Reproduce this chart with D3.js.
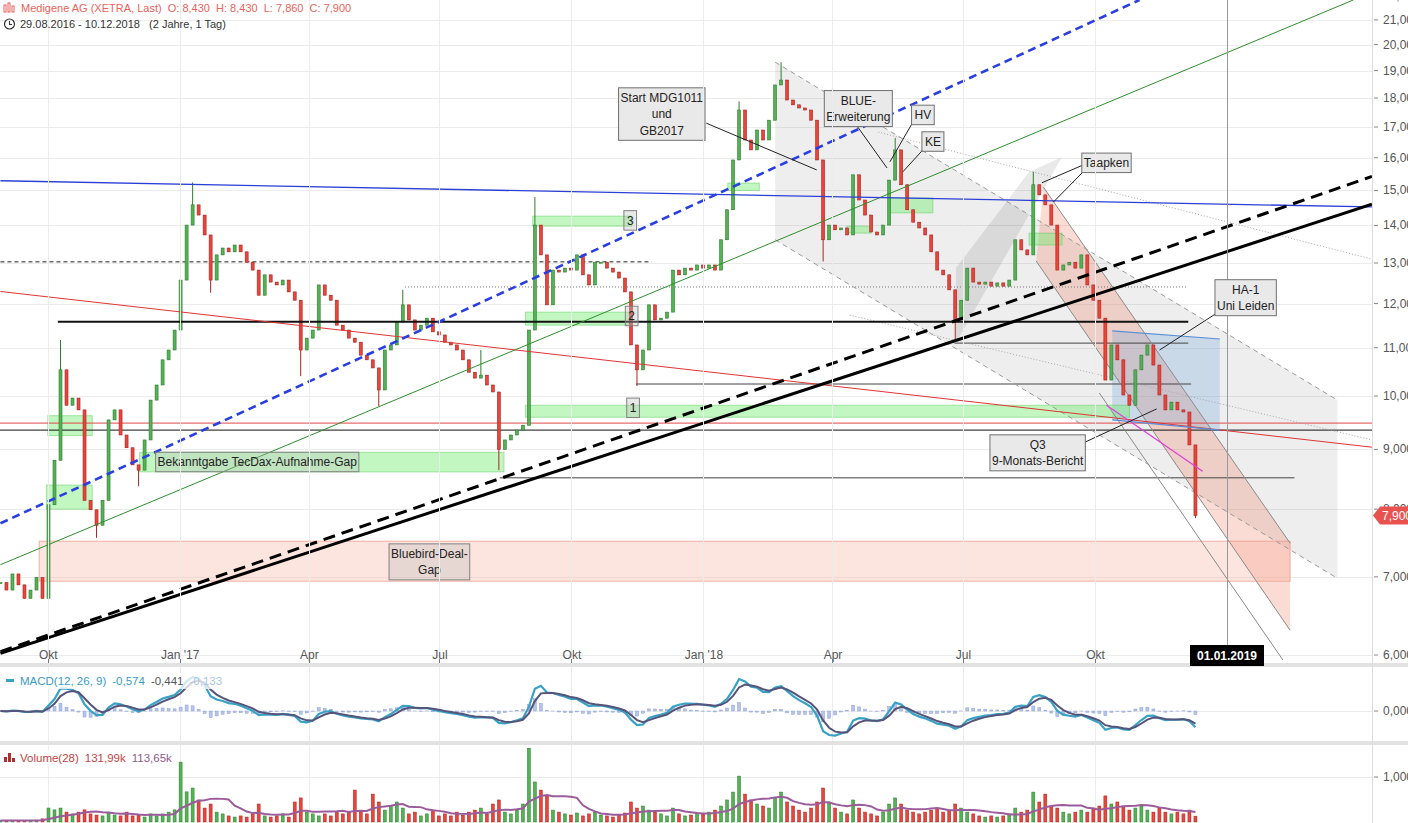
<!DOCTYPE html>
<html><head><meta charset="utf-8">
<script src="https://d3js.org/d3.v7.min.js"></script>
<style>
html,body{margin:0;padding:0;background:#fff;overflow:hidden}
svg{display:block}
text{font-family:"Liberation Sans",Arial,Helvetica,sans-serif;font-size:12px}
</style></head><body>
<svg id="chart" width="1408" height="823"></svg>
<script>
// ---------------- DATA ----------------
const candleStart = "2016-08-29", candleEnd = "2018-12-10";
const closes = [
 6.92,6.82,7.04,6.89,6.71,6.82,6.99,6.71,8.07,8.81,
 10.53,9.82,9.96,9.73,8.14,7.99,7.75,8.14,9.54,9.73,
 9.26,9.03,8.73,8.64,9.17,9.92,10.22,10.74,10.95,11.39,
 12.57,14.01,14.58,14.29,13.74,12.57,13.21,13.39,13.29,13.47,
 13.29,13.02,12.82,12.20,12.70,12.52,12.45,12.57,12.28,12.08,
 10.95,11.21,11.39,12.45,12.20,12.08,11.50,11.39,11.21,11.12,
 10.84,10.74,10.57,10.12,10.95,11.06,11.57,11.97,11.62,11.39,
 11.50,11.66,11.35,11.28,11.12,11.06,10.95,10.74,10.48,10.36,
 10.42,10.22,10.08,9.00,9.17,9.26,9.35,9.44,11.39,14.01,
 13.21,11.97,12.82,12.77,12.87,12.82,13.21,12.70,12.45,13.02,
 13.02,12.87,12.77,12.62,12.28,11.06,10.53,10.95,11.97,11.62,
 11.66,11.80,12.82,12.70,12.87,12.82,12.95,12.87,12.95,12.82,
 13.61,14.44,15.93,17.58,16.57,16.25,16.90,16.57,17.23,18.47,
 18.65,17.93,17.76,17.65,17.58,17.23,15.93,13.61,14.01,13.88,
 13.93,13.74,15.47,14.72,14.29,13.82,13.74,14.01,15.31,16.25,
 15.17,14.44,14.09,13.93,13.74,13.29,12.82,12.70,12.33,11.62,
 12.08,12.87,12.52,12.47,12.52,12.42,12.50,12.42,12.57,13.61,
 13.34,13.21,15.17,14.87,14.58,14.01,12.82,12.95,13.02,12.87,
 13.21,12.45,12.08,11.66,10.32,11.06,10.74,10.02,9.82,10.53,
 10.84,11.06,10.63,10.02,9.73,9.88,9.73,9.69,9.08,7.90
];
const wickHighs = [[10,11.17],[32,15.24],[67,12.33],[80,10.95],[89,14.81],[123,17.88],[130,19.32],[149,16.64],[172,15.56]];
const wickLows = [[16,7.56],[23,8.37],[35,12.26],[50,10.40],[63,9.80],[83,8.64],[106,10.20],[137,13.04],[159,11.17],[199,7.86]];
const volumes = [
 35,30,40,30,35,30,40,70,310,270,
 310,220,180,220,270,180,155,135,220,155,
 135,220,135,155,110,180,135,180,220,270,
 1330,670,755,490,310,400,220,180,135,110,
 135,110,180,400,135,110,135,180,110,445,
 535,220,180,135,180,135,220,180,220,710,
 265,180,620,445,265,355,445,310,180,220,
 135,180,265,135,180,135,220,155,220,265,
 310,180,400,490,220,180,265,400,1640,890,
 710,580,265,220,180,155,200,135,180,220,
 155,135,110,155,200,445,310,355,265,220,
 180,135,310,180,135,155,200,180,220,265,
 355,490,665,1020,620,490,400,355,310,535,
 665,445,355,265,220,310,445,755,445,310,
 220,180,490,310,220,180,135,220,400,535,
 400,265,220,180,220,265,310,220,265,400,
 310,220,180,135,110,135,110,135,180,310,
 220,265,665,445,620,355,310,220,180,220,
 265,220,310,355,580,400,445,355,265,310,
 355,265,220,310,220,180,220,180,265,130
];
const priceTicks = [6,7,8,9,10,11,12,13,14,15,16,17,18,19,20,21,22];
const quarterDates = ["2016-10-01","2017-01-01","2017-04-01","2017-07-01","2017-10-01","2018-01-01","2018-04-01","2018-07-01","2018-10-01"];
const quarterLabels = ["Okt","Jan '17","Apr","Jul","Okt","Jan '18","Apr","Jul","Okt"];
const crossDate = "2019-01-01", crossLabel = "01.01.2019";
const lastPrice = 7.90, lastPriceLabel = "7,900";

const gapsGreen = [
 ["2016-10-01","2016-11-01",9.62,9.25],
 ["2016-09-30","2016-11-01",8.39,8.00],
 ["2016-12-04","2017-08-15",8.95,8.61],
 ["2017-08-30","2018-10-25",9.82,9.59],
 ["2017-08-30","2017-11-12",11.80,11.50],
 ["2017-09-04","2017-11-12",14.26,13.98],
 ["2018-01-18","2018-02-09",15.22,15.00],
 ["2018-05-10","2018-06-10",14.78,14.35],
 ["2018-04-11","2018-04-28",13.98,13.79],
 ["2018-08-16","2018-09-08",13.79,13.47]
];
const gapRed = [["2016-09-25","2019-02-14",7.51,6.94]];
const zoneGray = [["2018-02-20",19.32],["2019-03-19",9.92],["2019-03-19",6.98],["2018-02-20",13.61]];
const zoneRise = [["2018-06-26",11.10],["2018-09-08",16.02],["2018-08-16",15.56],["2018-06-26",12.87]];
const zoneSalmon = [["2018-08-26",15.10],["2019-02-14",7.48],["2019-02-14",6.30],["2018-08-21",13.05]];
const zoneBlue = [["2018-10-13",11.37],["2018-12-27",11.19],["2018-12-27",9.35],["2018-10-13",9.54]];

const levelBlackDash = [["2016-08-29","2017-11-26",13.03]];
const levelDotted = [["2017-06-07","2018-12-04",12.40]];
const levelBlack = [["2016-10-08","2018-12-05",11.58]];
const levelGray = [["2018-06-25","2018-12-05",11.10],["2017-11-15","2018-12-07",10.24],["2017-08-12","2019-02-17",8.51]];
const levelFullRed = [["2016-08-01","2019-05-01",9.48]];
const levelFullBlack = [["2016-08-01","2019-05-01",9.35]];

const channelDashed = [["2018-02-20",19.32,"2019-03-19",9.92],["2018-02-20",13.61,"2019-03-19",6.98]];
const channelDotted = [["2018-05-03",16.83,"2019-04-12",13.10],["2018-04-13",11.73,"2019-04-12",9.17]];
const channelGray = [["2018-08-26",15.10,"2019-02-14",7.48],["2018-08-21",13.05,"2019-02-14",6.30],["2018-10-04",10.06,"2019-02-09",5.94]];
const trendBlue = [["2016-08-29",15.29,"2019-04-12",14.52]];
const trendBlueDash = [["2016-08-29",7.78,"2018-11-01",21.84]];
const trendGreen = [["2016-08-29",7.17,"2019-03-30",21.84]];
const trendRed = [["2016-08-29",12.29,"2019-04-12",9.04]];
const trendBlack = [["2016-08-29",6.02,"2019-04-12",14.60]];
const trendBlackDash = [["2016-08-29",6.04,"2019-04-12",15.42]];
const trendMagenta = [["2018-10-09",9.82,"2018-12-15",8.62]];

const notes = [
 [["Start MDG1011","und","GB2017"],"2017-12-03",17.44],
 [["BLUE-","Erweiterung"],"2018-04-19",17.63],
 [["HV"],"2018-06-03",17.41],
 [["KE"],"2018-06-10",16.52],
 [["Taapken"],"2018-10-09",15.84],
 [["HA-1","Uni Leiden"],"2019-01-14",12.14],
 [["Q3","9-Monats-Bericht"],"2018-08-22",8.94]
];
const notePointers = [
 ["2018-01-03",17.13,"2018-03-21",15.62],
 ["2018-04-18",17.04,"2018-05-09",15.68],
 ["2018-05-27",17.16,"2018-05-11",15.87],
 ["2018-06-03",16.25,"2018-05-20",15.56],
 ["2018-09-23",15.78,"2018-08-25",15.23],
 ["2018-09-24",15.62,"2018-09-02",14.66],
 ["2018-12-25",11.78,"2018-11-15",10.95],
 ["2018-09-24",9.13,"2018-11-13",9.75]
];
const gapNotes = [
 [["Bekanntgabe TecDax-Aufnahme-Gap"],"2017-02-24",8.78],
 [["Bluebird-Deal-","Gap"],"2017-06-24",7.21],
 [["3"],"2017-11-11",14.14],
 [["2"],"2017-11-12",11.71],
 [["1"],"2017-11-13",9.77]
];
const headerTitle = "Medigene AG (XETRA, Last)  O: 8,430  H: 8,430  L: 7,860  C: 7,900";
const headerRange = "29.08.2016 - 10.12.2018   (2 Jahre, 1 Tag)";
const macdLegend = ["MACD(12, 26, 9)","-0,574","-0,441","-0,133"];
const volLegend = ["Volume(28)","131,99k","113,65k"];

// ---------------- SETUP ----------------
const svg = d3.select("#chart");
const parse = d3.timeParse("%Y-%m-%d");
const PR = 1372;
const x = d3.scaleTime().domain([new Date(2016,7,29), new Date(2019,0,1)]).range([0.46,1227]);
const y = d3.scaleLog().domain([6,21.84]).range([655,0]);
const yM = d3.scaleLinear().domain([-1,1]).range([736,686]);
const yV = d3.scaleLinear().domain([0,1000]).range([822,777]);
const n = closes.length;
const idx = d3.scaleLinear().domain([0,n-1]).range([parse(candleStart), parse(candleEnd)]);
const cx = i => x(idx(i));
const X = s => x(parse(s));
const BW = 3;

const defs = svg.append("defs");
defs.append("clipPath").attr("id","cp").append("rect").attr("x",0).attr("y",0).attr("width",PR).attr("height",663);
defs.append("clipPath").attr("id","cm").append("rect").attr("x",0).attr("y",667).attr("width",PR).attr("height",74);
defs.append("clipPath").attr("id","cv").append("rect").attr("x",0).attr("y",745).attr("width",PR).attr("height",78);

svg.append("rect").attr("x",0).attr("y",663).attr("width",1408).attr("height",4).attr("fill","#e2e2e2");
svg.append("rect").attr("x",0).attr("y",741).attr("width",1408).attr("height",4).attr("fill","#e2e2e2");
svg.append("line").attr("x1",PR+0.5).attr("x2",PR+0.5).attr("y1",0).attr("y2",823).attr("stroke","#dcdcdc");

// ---------------- PRICE PANE ----------------
const gP = svg.append("g").attr("clip-path","url(#cp)");
gP.selectAll(null).data(priceTicks).join("line").attr("x1",0).attr("x2",PR)
  .attr("y1",d=>Math.round(y(d))+0.5).attr("y2",d=>Math.round(y(d))+0.5).attr("stroke","#ececec");
[[0,663],[667,741],[745,823]].forEach(([a,b])=>{
  svg.selectAll(null).data(quarterDates).join("line").attr("x1",d=>Math.round(X(d))+0.5).attr("x2",d=>Math.round(X(d))+0.5)
    .attr("y1",a).attr("y2",b).attr("stroke","#ececec");
});

const poly = d3.line().x(d=>X(d[0])).y(d=>y(d[1]));
gP.append("path").attr("d",poly(zoneGray)+"Z").attr("fill","rgba(0,0,0,0.065)");
gP.append("path").attr("d",poly(zoneRise)+"Z").attr("fill","rgba(0,0,0,0.085)");
gP.append("path").attr("d",poly(zoneSalmon)+"Z").attr("fill","rgba(240,130,100,0.28)");
gP.append("path").attr("d",poly(zoneBlue)+"Z").attr("fill","rgba(110,165,220,0.28)");

const rectAttrs = sel => sel.attr("x",d=>X(d[0])).attr("width",d=>X(d[1])-X(d[0]))
  .attr("y",d=>y(d[2])).attr("height",d=>y(d[3])-y(d[2]));
gP.selectAll(null).data(gapRed).join("rect").call(rectAttrs).attr("fill","rgba(250,170,150,0.3)").attr("stroke","rgba(235,150,130,0.7)");
gP.selectAll(null).data(gapsGreen).join("rect").call(rectAttrs).attr("fill","rgba(110,235,110,0.42)").attr("stroke","rgba(80,200,80,0.45)");

const lvl = (arr, stroke, w, dash) => gP.selectAll(null).data(arr).join("line")
  .attr("x1",d=>X(d[0])).attr("x2",d=>X(d[1])).attr("y1",d=>y(d[2])).attr("y2",d=>y(d[2]))
  .attr("stroke",stroke).attr("stroke-width",w).attr("stroke-dasharray",dash||null);
const seg = (arr, stroke, w, dash) => gP.selectAll(null).data(arr).join("line")
  .attr("x1",d=>X(d[0])).attr("y1",d=>y(d[1])).attr("x2",d=>X(d[2])).attr("y2",d=>y(d[3]))
  .attr("stroke",stroke).attr("stroke-width",w).attr("stroke-dasharray",dash||null);

lvl(levelFullRed,"#e04848",1);
lvl(levelFullBlack,"#111",1);
lvl(levelBlackDash,"#222",1,"4,3");
lvl(levelDotted,"#777",1,"1,2");
lvl(levelGray,"#444",1);
seg(channelDashed,"#9a9a9a",1,"5,4");
seg(channelDotted,"#a8a8a8",1,"1,2");
seg(channelGray,"#8a8a8a",1);

// candles
const opens = closes.map((c,i)=> i===0 ? c : closes[i-1]);
const hiMap = new Map(wickHighs), loMap = new Map(wickLows);
const ids = d3.range(n);
const up = i => closes[i] >= opens[i];
gP.selectAll(null).data(ids).join("line")
  .attr("x1",i=>cx(i)).attr("x2",i=>cx(i))
  .attr("y1",i=>y(Math.max(opens[i],closes[i],hiMap.get(i)||0)))
  .attr("y2",i=>y(Math.min(opens[i],closes[i],loMap.get(i)||99)))
  .attr("stroke",i=>up(i)?"#2f7d2f":"#a82520").attr("stroke-width",1);
gP.selectAll(null).data(ids).join("rect")
  .attr("x",i=>cx(i)-BW/2).attr("width",BW)
  .attr("y",i=>y(Math.max(opens[i],closes[i])))
  .attr("height",i=>Math.max(1,Math.abs(y(opens[i])-y(closes[i]))))
  .attr("fill",i=>up(i)?"#55b155":"#e8453c").attr("stroke",i=>up(i)?"#2f7d2f":"#a82520").attr("stroke-width",0.6);

lvl(levelBlack,"#111",2);
seg(trendRed,"#e03434",1);
seg(trendGreen,"#2d8f2d",1);
seg(trendBlue,"#2b3fd6",1.3);
seg(trendBlueDash,"#2a3fe0",2.6,"8,5");
seg(trendBlack,"#000",3);
seg(trendBlackDash,"#000",3,"12,7");
seg(trendMagenta,"#e040d8",1.3);
seg([[zoneBlue[0][0],zoneBlue[0][1],zoneBlue[1][0],zoneBlue[1][1]],[zoneBlue[3][0],zoneBlue[3][1],zoneBlue[2][0],zoneBlue[2][1]]],"#5b8fd5",1.2);

gP.append("line").attr("x1",Math.round(X(crossDate))+0.5).attr("x2",Math.round(X(crossDate))+0.5)
  .attr("y1",0).attr("y2",646).attr("stroke","#999").attr("stroke-width",1);

seg(notePointers,"#222",1);
function drawNotes(arr, fill, stroke){
  arr.forEach(([lines,d,p])=>{
    const g = gP.append("g").attr("transform",`translate(${X(d)},${y(p)})`);
    const lh = 16.5, th = lines.length*lh;
    const r = g.append("rect");
    const t = g.selectAll(null).data(lines).join("text").attr("text-anchor","middle")
      .attr("y",(l,j)=>-th/2 + j*lh + 12.5).attr("fill","#222").text(l=>l);
    let w = 0; t.each(function(){ w = Math.max(w,this.getComputedTextLength()); });
    const bw = w + (lines.length===1 && w<30 ? 6 : 4), bh = th + 3;
    r.attr("x",-bw/2).attr("y",-bh/2).attr("width",bw).attr("height",bh).attr("fill",fill).attr("stroke",stroke);
  });
}
drawNotes(notes,"#e9e9e9","#707070");
drawNotes(gapNotes,"rgba(190,190,190,0.35)","#808080");

// right axis
svg.selectAll(null).data(priceTicks).join("line").attr("x1",PR+2).attr("x2",PR+6)
  .attr("y1",d=>y(d)).attr("y2",d=>y(d)).attr("stroke","#888");
svg.selectAll(null).data(priceTicks).join("text").attr("x",PR+11).attr("y",d=>y(d)+4)
  .attr("fill","#555").text(d=>d+",000");
const ly = y(lastPrice);
svg.append("path").attr("d",`M${PR+1},${ly} L${PR+8},${ly-9} L1410,${ly-9} L1410,${ly+9} L${PR+8},${ly+9} Z`).attr("fill","#e8534f");
svg.append("text").attr("x",PR+10).attr("y",ly+4).attr("fill","#fff").text(lastPriceLabel);

// x axis
const ax = d3.axisBottom(x).tickValues(quarterDates.map(parse)).tickFormat((d,i)=>quarterLabels[i]).tickSize(0).tickPadding(0);
const gA = svg.append("g").attr("transform","translate(0,650)").call(ax);
gA.select(".domain").remove();
gA.selectAll("text").attr("fill","#555").style("font-size","12px").style("font-family",'"Liberation Sans",Arial,sans-serif');
svg.selectAll(null).data(quarterDates).join("line").attr("x1",d=>Math.round(X(d))+0.5).attr("x2",d=>Math.round(X(d))+0.5)
  .attr("y1",659).attr("y2",663).attr("stroke","#777");
const cxd = X(crossDate);
svg.append("rect").attr("x",cxd-37).attr("y",645).attr("width",74).attr("height",21).attr("fill","#000");
svg.append("text").attr("x",cxd).attr("y",660).attr("text-anchor","middle").attr("fill","#fff").attr("font-weight","bold").text(crossLabel);

// ---------------- MACD ----------------
const ema = (arr,p) => { const k=2/(p+1); let e; return arr.map((v,i)=> e = (i===0? v : v*k + e*(1-k))); };
const eFast = ema(closes,4), eSlow = ema(closes,9);
const macd = closes.map((c,i)=> eFast[i]-eSlow[i]);
const signal = ema(macd,3);
const hist = macd.map((m,i)=> m-signal[i]);
const gM = svg.append("g").attr("clip-path","url(#cm)");
gM.append("line").attr("x1",0).attr("x2",PR).attr("y1",Math.round(yM(0))+0.5).attr("y2",Math.round(yM(0))+0.5).attr("stroke","#ececec");
gM.selectAll(null).data(ids).join("rect").attr("x",i=>cx(i)-1.5).attr("width",3)
  .attr("y",i=>Math.min(yM(0),yM(hist[i]))).attr("height",i=>Math.abs(yM(hist[i])-yM(0)))
  .attr("fill","#b6c4ec").attr("stroke","#8fa2d8").attr("stroke-width",0.5);
const lM = arr => d3.line().x((d,i)=>cx(i)).y(d=>yM(d))(arr);
gM.append("path").attr("d",lM(macd)).attr("fill","none").attr("stroke","#38a2c6").attr("stroke-width",2.2);
gM.append("path").attr("d",lM(signal)).attr("fill","none").attr("stroke","#56547a").attr("stroke-width",2);
svg.append("line").attr("x1",PR+2).attr("x2",PR+6).attr("y1",yM(0)).attr("y2",yM(0)).attr("stroke","#888");
svg.append("text").attr("x",PR+11).attr("y",yM(0)+4).attr("fill","#555").text("0,000");

function legend(items, colors, x0, yb){
  let cxp = x0;
  items.forEach((s,i)=>{
    const t = svg.append("text").attr("x",cxp).attr("y",yb).attr("fill",colors[i]).style("font-size","11.5px").text(s);
    cxp += t.node().getComputedTextLength() + 6;
  });
  return cxp;
}
const mbg = svg.append("rect").attr("x",3).attr("y",673).attr("height",16).attr("fill","rgba(255,255,255,0.75)");
svg.append("rect").attr("x",6).attr("y",679).attr("width",8).attr("height",3).attr("fill","#38a2c6");
const mEnd = legend(macdLegend,["#3a9cc2","#3a9cc2","#555","#a8c8e6"],20,685);
mbg.attr("width",mEnd-3);

// ---------------- VOLUME ----------------
const gV = svg.append("g").attr("clip-path","url(#cv)");
gV.append("line").attr("x1",0).attr("x2",PR).attr("y1",Math.round(yV(1000))+0.5).attr("y2",Math.round(yV(1000))+0.5).attr("stroke","#ececec");
gV.selectAll(null).data(ids).join("rect").attr("x",i=>cx(i)-BW/2).attr("width",BW)
  .attr("y",i=>yV(volumes[i])).attr("height",i=>yV(0)-yV(volumes[i]))
  .attr("fill",i=>up(i)?"#55b155":"#e8453c").attr("stroke",i=>up(i)?"#2f7d2f":"#a82520").attr("stroke-width",0.5);
const volMA = volumes.map((v,i)=> d3.mean(volumes.slice(Math.max(0,i-8), i+1)));
gV.append("path").attr("d",d3.line().x((d,i)=>cx(i)).y(d=>yV(d))(volMA)).attr("fill","none").attr("stroke","#9b5c9b").attr("stroke-width",2);
svg.append("line").attr("x1",PR+2).attr("x2",PR+6).attr("y1",yV(1000)).attr("y2",yV(1000)).attr("stroke","#888");
svg.append("text").attr("x",PR+11).attr("y",yV(1000)+4).attr("fill","#555").text("1,000M");
const vbg = svg.append("rect").attr("x",3).attr("y",750).attr("height",16).attr("fill","rgba(255,255,255,0.75)");
[[4,757,3,5],[8,753,3,9],[12,758,3,4]].forEach(([a,b,w,h])=>svg.append("rect").attr("x",a).attr("y",b).attr("width",w).attr("height",h).attr("fill","#b03030"));
const vEnd = legend(volLegend,["#c0463f","#c0463f","#8e5a8e"],20,762);
vbg.attr("width",vEnd-3);

// ---------------- HEADER ----------------
[[4,5,2,7],[8,3,2,9],[12,6,2,6]].forEach(([a,b,w,h])=>{
  svg.append("rect").attr("x",a).attr("y",b).attr("width",w).attr("height",h).attr("fill","none").attr("stroke","#e8635c").attr("stroke-width",1);
});
svg.append("text").attr("x",21).attr("y",12).attr("fill","#e8635c").style("white-space","pre").style("font-size","11px").text(headerTitle);
svg.append("circle").attr("cx",9.5).attr("cy",24).attr("r",5).attr("fill","none").attr("stroke","#333").attr("stroke-width",1.2);
svg.append("path").attr("d","M9.5,21 V24.5 H12").attr("fill","none").attr("stroke","#333").attr("stroke-width",1.1);
svg.append("text").attr("x",20).attr("y",28).attr("fill","#333").style("white-space","pre").style("font-size","11px").text(headerRange);
</script></body></html>
